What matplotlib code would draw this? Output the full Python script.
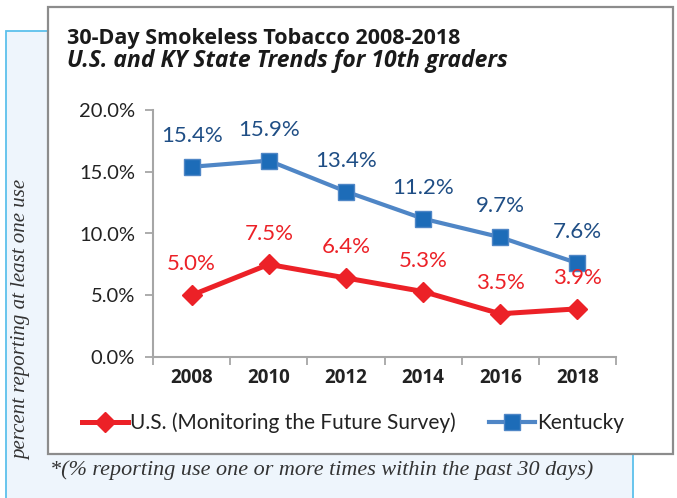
import matplotlib.pyplot as plt
from matplotlib.patches import Rectangle

# data
years = ["2008", "2010", "2012", "2014", "2016", "2018"]
us_values = [5.0, 7.5, 6.4, 5.3, 3.5, 3.9]
ky_values = [15.4, 15.9, 13.4, 11.2, 9.7, 7.6]
y_ticks = [0, 5, 10, 15, 20]

W, H = 677, 498
fig = plt.figure(figsize=(W / 100, H / 100), dpi=100)


def fx(px):
    return px / W


def fy(py):
    return 1 - py / H


# light blue side panel behind the chart
fig.patches.append(Rectangle((fx(6), fy(510)), fx(633) - fx(6), fy(31) - fy(510),
                             transform=fig.transFigure, facecolor="#eef5fc",
                             edgecolor="#5cc0ec", linewidth=1.3, zorder=0))
# white chart box
fig.patches.append(Rectangle((fx(48), fy(454)), fx(673) - fx(48), fy(7) - fy(454),
                             transform=fig.transFigure, facecolor="white",
                             edgecolor="#8c8c8c", linewidth=1.6, zorder=1))

ax = fig.add_axes([fx(153), fy(357), fx(616) - fx(153), fy(110) - fy(357)])
ax.set_facecolor("none")
ax.set_zorder(2)

x = list(range(len(years)))
us_color = "#ec2127"
ky_line = "#4f86c6"
ky_marker = "#1d6cb8"
ky_text = "#1f4e85"

ax.plot(x, us_values, color=us_color, linewidth=3.6, marker="D", markersize=10,
        label="U.S. (Monitoring the Future Survey)", zorder=3)
ax.plot(x, ky_values, color=ky_line, linewidth=3.0, marker="s", markersize=11.5,
        markerfacecolor=ky_marker, markeredgecolor=ky_line, markeredgewidth=1,
        label="Kentucky", zorder=3)

for i in x:
    ax.annotate("%.1f%%" % us_values[i], (i, us_values[i]), xytext=(0, 15),
                textcoords="offset points", ha="center", va="bottom",
                color=us_color, fontsize=16, family="Lato")
    ax.annotate("%.1f%%" % ky_values[i], (i, ky_values[i]), xytext=(0, 15),
                textcoords="offset points", ha="center", va="bottom",
                color=ky_text, fontsize=16, family="Lato")

ax.set_xlim(-0.5, len(years) - 0.5)
ax.set_ylim(0, 20)
ax.set_yticks(y_ticks)
ax.set_yticklabels(["%.1f%%" % v for v in y_ticks], fontsize=14.5, family="Lato",
                   color="#222222")
ax.set_xticks(x)
ax.set_xticklabels(years, fontsize=13.5, fontweight="bold", family="Open Sans",
                   color="#222222")
ax.set_xticks([i - 0.5 for i in range(len(years) + 1)], minor=True)
ax.tick_params(axis="x", which="major", length=0, pad=8)
ax.tick_params(axis="x", which="minor", length=6, color="#a6a6a6", width=1.3)
ax.tick_params(axis="y", length=6, color="#a6a6a6", width=1.3, pad=7)

for s in ["top", "right"]:
    ax.spines[s].set_visible(False)
for s in ["left", "bottom"]:
    ax.spines[s].set_color("#a6a6a6")
    ax.spines[s].set_linewidth(1.5)

fig.text(fx(67), fy(38), "30-Day Smokeless Tobacco 2008-2018", fontsize=15.5,
         fontweight="bold", family="Open Sans", color="#1a1a1a", va="center",
         zorder=5)
fig.text(fx(67), fy(61), "U.S. and KY State Trends for 10th graders", fontsize=16.5,
         fontweight="bold", style="italic", family="Open Sans", color="#1a1a1a",
         va="center", zorder=5)

fig.text(fx(22), fy(320), "percent reporting at least one use", rotation=90,
         fontsize=15, style="italic", family="Liberation Serif", color="#333333",
         ha="center", va="center", zorder=5)
fig.text(fx(50), fy(470), "*(% reporting use one or more times within the past 30 days)",
         fontsize=15.9, style="italic", family="Liberation Serif", color="#333333",
         va="center", zorder=5)

leg = fig.legend(loc="center", bbox_to_anchor=(fx(353), fy(423)), ncol=2,
                 frameon=False, handlelength=2.2, handletextpad=0.1,
                 columnspacing=1.6, prop={"family": "Lato", "size": 15})
for t in leg.get_texts():
    t.set_color("#222222")

fig.savefig("out.png", dpi=100)
